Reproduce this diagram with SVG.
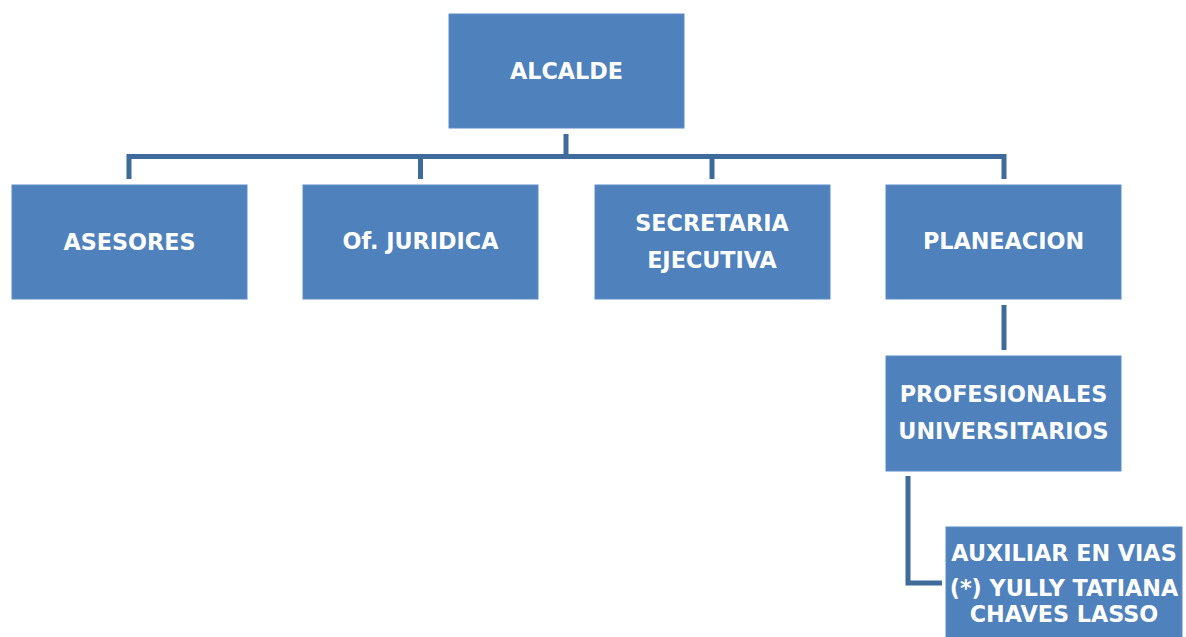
<svg xmlns="http://www.w3.org/2000/svg" width="1186" height="637" viewBox="0 0 1186 637">
<style>
.box{fill:#4F81BD;stroke:#5B8CC8;stroke-width:1}
.t{fill:#FFFFFF;font-family:"DejaVu Sans",Verdana,sans-serif;font-weight:bold;font-size:22.3px;text-anchor:middle}
.c{fill:none;stroke:#3F6A9C;stroke-width:5}
</style>
<rect width="1186" height="637" fill="#FFFFFF"/>
<g id="connectors">
<path class="c" d="M566,134 V156.5"/>
<path class="c" d="M129,179 V156.5 H1004 V179"/>
<path class="c" d="M420.5,156.5 V179"/>
<path class="c" d="M712,156.5 V179"/>
<path class="c" d="M1004,305 V350"/>
<path class="c" d="M908,476 V583 H942"/>
</g>
<g id="alcalde">
<rect class="box" x="449" y="14" width="235" height="114"/>
<text class="t" x="566.5" y="79">ALCALDE</text>
</g>
<g id="asesores">
<rect class="box" x="12" y="185" width="235" height="114"/>
<text class="t" x="129.5" y="250">ASESORES</text>
</g>
<g id="juridica">
<rect class="box" x="303" y="185" width="235" height="114"/>
<text class="t" x="420.5" y="249">Of. JURIDICA</text>
</g>
<g id="secretaria">
<rect class="box" x="595" y="185" width="235" height="114"/>
<text class="t" x="712" y="231">SECRETARIA</text>
<text class="t" x="712" y="268">EJECUTIVA</text>
</g>
<g id="planeacion">
<rect class="box" x="886" y="185" width="235" height="114"/>
<text class="t" x="1003.5" y="249">PLANEACION</text>
</g>
<g id="profesionales">
<rect class="box" x="886" y="356" width="235" height="115"/>
<text class="t" x="1003.5" y="402">PROFESIONALES</text>
<text class="t" x="1003.5" y="439">UNIVERSITARIOS</text>
</g>
<g id="auxiliar">
<rect class="box" x="946" y="527" width="236" height="115"/>
<text class="t" x="1064" y="561">AUXILIAR EN VIAS</text>
<text class="t" x="1064" y="596">(*) YULLY TATIANA</text>
<text class="t" x="1064" y="622">CHAVES LASSO</text>
</g>
</svg>
